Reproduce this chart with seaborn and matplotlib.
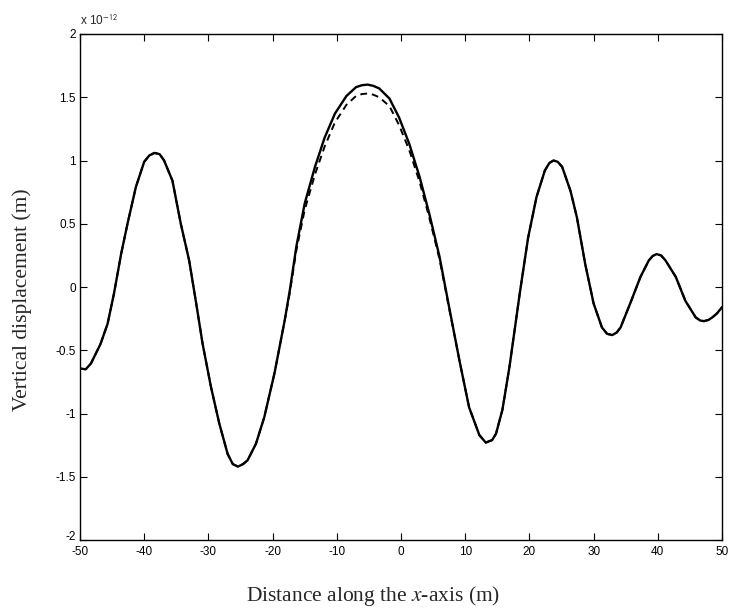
import numpy as np
import pandas as pd
import matplotlib
matplotlib.use("Agg")
import matplotlib.pyplot as plt
import matplotlib.transforms as mtransforms
import seaborn as sns

# Data (units of 1e-12 m)
x_solid = [-50, -49.1, -48.3, -46.8, -45.7, -44.7, -43.6, -42.6, -41.3, -40.0, -39.2, -38.4,
           -37.6, -36.9, -35.6, -34.3, -33.0, -31.9, -30.9, -29.6, -28.3, -27.0, -26.2, -25.4,
           -24.6, -23.9, -22.6, -21.3, -19.7, -18.1, -17.3, -16.3, -15.0, -13.4, -11.9, -10.3,
           -8.5, -7.0, -6.1, -5.2, -4.3, -3.4, -1.8, -0.3, 1.3, 2.9, 4.4, 6.0, 7.5, 9.1, 10.6,
           12.2, 13.2, 14.2, 14.8, 15.8, 16.9, 18.5, 19.8, 21.1, 22.4, 23.1, 23.75, 24.4, 25.1,
           26.4, 27.4, 28.7, 30.0, 31.3, 32.1, 32.9, 33.6, 34.2, 35.7, 37.3, 38.6, 39.2, 39.8,
           40.5, 41.2, 42.8, 44.3, 45.9, 46.6, 47.2, 47.9, 48.5, 49.2, 50.0]
y_solid = [-0.645, -0.65, -0.605, -0.45, -0.29, -0.05, 0.26, 0.5, 0.79, 0.99, 1.04, 1.06,
           1.05, 1.0, 0.84, 0.5, 0.21, -0.13, -0.45, -0.79, -1.08, -1.32, -1.40, -1.42,
           -1.40, -1.37, -1.24, -1.03, -0.68, -0.26, -0.02, 0.32, 0.66, 0.95, 1.18, 1.37,
           1.51, 1.58, 1.595, 1.60, 1.59, 1.57, 1.49, 1.34, 1.13, 0.87, 0.58, 0.24, -0.16, -0.58, -0.95,
           -1.17, -1.23, -1.21, -1.16, -0.97, -0.63, -0.05, 0.39, 0.71, 0.92, 0.98, 1.0, 0.99, 0.95,
           0.76, 0.55, 0.18, -0.13, -0.32, -0.37, -0.38, -0.36, -0.32, -0.13, 0.08, 0.21, 0.245, 0.26,
           0.25, 0.21, 0.08, -0.11, -0.24, -0.265, -0.27, -0.26, -0.24, -0.21, -0.16]

x_dash = [-50, -49.1, -48.3, -46.8, -45.7, -44.7, -43.6, -42.6, -41.3, -40.0, -39.2, -38.4,
          -37.6, -36.9, -35.6, -34.3, -33.0, -31.9, -30.9, -29.6, -28.3, -27.0, -26.2, -25.4,
          -24.6, -23.9, -22.6, -21.3, -19.7, -18.1, -17.3, -16.3, -15.0, -13.4, -11.9, -10.3,
          -8.5, -7.0, -6.1, -5.2, -4.3, -3.4, -1.8, -0.3, 1.3, 2.9, 4.4, 6.0, 7.5, 9.1, 10.6,
          12.2, 13.2, 14.2, 14.8, 15.8, 16.9, 18.5, 19.8, 21.1, 22.4, 23.1, 23.75, 24.4, 25.1,
          26.4, 27.4, 28.7, 30.0, 31.3, 32.1, 32.9, 33.6, 34.2, 35.7, 37.3, 38.6, 39.2, 39.8,
          40.5, 41.2, 42.8, 44.3, 45.9, 46.6, 47.2, 47.9, 48.5, 49.2, 50.0]
y_dash = [-0.645, -0.65, -0.605, -0.45, -0.29, -0.05, 0.26, 0.5, 0.79, 0.99, 1.04, 1.06,
          1.05, 1.0, 0.84, 0.5, 0.21, -0.13, -0.45, -0.79, -1.08, -1.32, -1.40, -1.42,
          -1.40, -1.37, -1.24, -1.03, -0.68, -0.26, -0.04, 0.29, 0.61, 0.89, 1.11, 1.30,
          1.44, 1.51, 1.525, 1.53, 1.52, 1.50, 1.43, 1.28, 1.08, 0.83, 0.55, 0.22, -0.17, -0.58, -0.95,
          -1.17, -1.23, -1.21, -1.16, -0.97, -0.63, -0.05, 0.39, 0.71, 0.92, 0.98, 1.0, 0.99, 0.95,
          0.76, 0.55, 0.18, -0.13, -0.32, -0.37, -0.38, -0.36, -0.32, -0.13, 0.08, 0.21, 0.245, 0.26,
          0.25, 0.21, 0.08, -0.11, -0.24, -0.265, -0.27, -0.26, -0.24, -0.21, -0.16]

x_ticks = [-50, -40, -30, -20, -10, 0, 10, 20, 30, 40, 50]
y_ticks = [-2, -1.5, -1, -0.5, 0, 0.5, 1, 1.5, 2]
y_tick_labels = ["-2", "-1.5", "-1", "-0.5", "0", "0.5", "1", "1.5", "2"]
x_tick_labels = ["-50", "-40", "-30", "-20", "-10", "0", "10", "20", "30", "40", "50"]

sns.set_theme(style="ticks")
plt.rcParams["axes.unicode_minus"] = False
plt.rcParams["mathtext.fontset"] = "stix"

df_s = pd.DataFrame({"x": x_solid, "y": y_solid})
df_d = pd.DataFrame({"x": x_dash, "y": y_dash})

fig = plt.figure(figsize=(7.29, 6.08), dpi=100)
ax = fig.add_axes([80 / 729, 1 - 540 / 608, 642 / 729, (540 - 34) / 608])

sns.lineplot(data=df_d, x="x", y="y", ax=ax, color="black", lw=1.4,
             linestyle=(0, (3.5, 2.5)), sort=False)
sns.lineplot(data=df_s, x="x", y="y", ax=ax, color="black", lw=1.7, sort=False)

ax.set_xlim(-50, 50)
ax.set_ylim(-2, 2)
ax.set_xticks(x_ticks)
ax.set_xticklabels(x_tick_labels)
ax.set_yticks(y_ticks)
ax.set_yticklabels(y_tick_labels)
ax.tick_params(direction="in", length=5, width=0.8, top=True, right=True,
               labelsize=8.5, colors="black")
ax.tick_params(axis="x", pad=4)
ax.tick_params(axis="y", pad=3)
for lab in ax.get_xticklabels() + ax.get_yticklabels():
    lab.set_fontfamily("Liberation Sans")
# lift the bottom y label slightly so it does not collide with the "-50" label
lowest = ax.get_yticklabels()[0]
lowest.set_transform(lowest.get_transform() +
                     mtransforms.ScaledTranslation(0, 3 / 72, fig.dpi_scale_trans))
for sp in ax.spines.values():
    sp.set_linewidth(1.0)
    sp.set_color("black")
ax.set_xlabel("")
ax.set_ylabel("")

ax.text(0.0, 1.012, r"x 10$^{\mathsf{-12}}$", transform=ax.transAxes,
        fontsize=8.5, family="Liberation Sans", ha="left", va="bottom")

fig.text(373 / 729, 1 - 596 / 608, "Distance along the $\\mathit{x}$-axis (m)",
         family="Liberation Serif", fontsize=15.5, ha="center", va="center")
fig.text(22 / 729, 1 - 300 / 608, "Vertical displacement (m)",
         family="Liberation Serif", fontsize=15.5, ha="center", va="center",
         rotation=90)

fig.savefig("out.png", dpi=100, facecolor="white")
